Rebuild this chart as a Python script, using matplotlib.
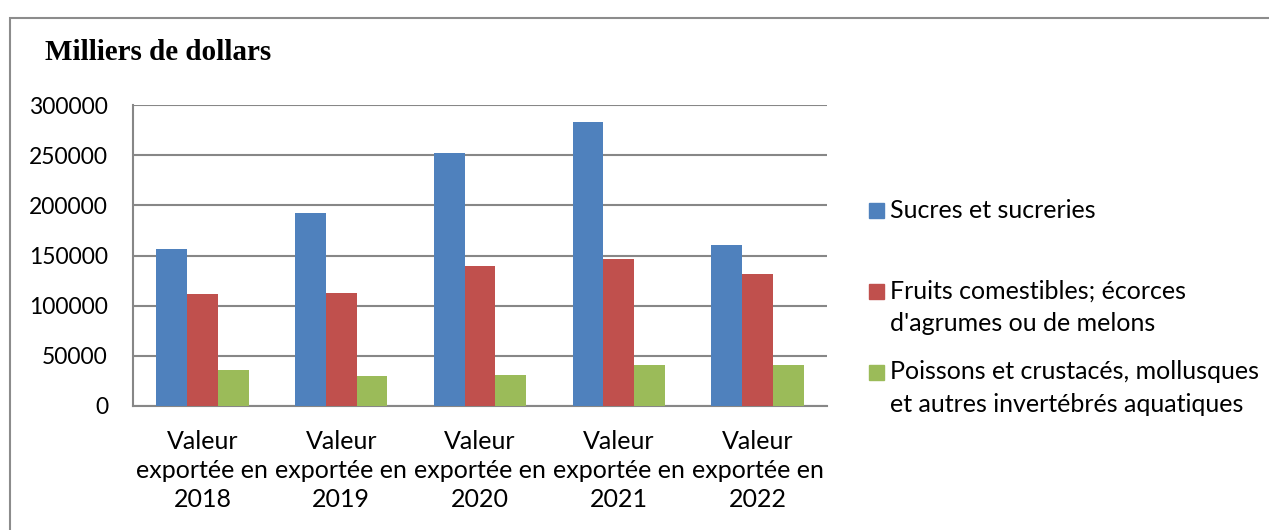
import matplotlib
matplotlib.use("Agg")
import matplotlib.pyplot as plt
import numpy as np
from matplotlib.patches import Rectangle

categories = ["Valeur\nexportée en\n2018", "Valeur\nexportée en\n2019", "Valeur\nexportée en\n2020",
              "Valeur\nexportée en\n2021", "Valeur\nexportée en\n2022"]
series_names = ["Sucres et sucreries",
                "Fruits comestibles; écorces\nd'agrumes ou de melons",
                "Poissons et crustacés, mollusques\net autres invertébrés aquatiques"]
sucres = [156700, 192300, 251700, 283300, 160000]
fruits = [111700, 113000, 140000, 146300, 131700]
poissons = [35700, 29700, 30700, 40700, 40700]
yticks = [0, 50000, 100000, 150000, 200000, 250000, 300000]
colors = ["#4F81BD", "#C0504D", "#9BBB59"]

W, H = 1269, 530
fig = plt.figure(figsize=(W / 100, H / 100), dpi=100)
plt.rcParams['font.family'] = ['Lato', 'DejaVu Sans']

# outer border
fig.patches.append(Rectangle((10 / W, -0.1), 1.2, 1 - 18 / H + 0.1, transform=fig.transFigure,
                             fill=False, edgecolor="#8c8c8c", linewidth=1.5))

ax = fig.add_axes([133 / W, 1 - 406 / H, (827 - 133) / W, (406 - 105) / H])
x = np.arange(len(categories))
w = 1 / 4.5
data = [sucres, fruits, poissons]
for i, (vals, c, name) in enumerate(zip(data, colors, series_names)):
    ax.bar(x + (i - 1) * w, vals, width=w, color=c, label=name, zorder=3)

ax.set_xlim(-0.5, len(categories) - 0.5)
ax.set_ylim(0, 300000)
ax.set_yticks(yticks)
ax.set_yticklabels([str(v) for v in yticks], fontsize=16.5)
ax.set_xticks(x)
ax.set_xticklabels(categories, fontsize=18, linespacing=1.33)
ax.tick_params(axis="x", length=0, pad=17)
ax.tick_params(axis="y", length=0, pad=18)
ax.yaxis.grid(True, color="#878787", linewidth=1.5, zorder=0)
for s in ["top", "right"]:
    ax.spines[s].set_visible(False)
for s in ["left", "bottom"]:
    ax.spines[s].set_color("#878787")
    ax.spines[s].set_linewidth(1.5)

fig.text(45 / W, 1 - 52 / H, "Milliers de dollars", fontsize=21, fontweight="bold",
         family="Liberation Serif", va="center", ha="left")

# legend
leg_items = [(210, series_names[0]), (307, series_names[1]), (388, series_names[2])]
for (yc, name), c in zip(leg_items, colors):
    lines = name.split("\n")
    first_y = yc - (len(lines) - 1) * 16
    fig.patches.append(Rectangle((869 / W, 1 - (first_y + 7.5) / H), 15 / W, 15 / H,
                                 transform=fig.transFigure, color=c))
    fig.text(890 / W, 1 - yc / H, name, fontsize=18, va="center", ha="left", linespacing=1.48)

fig.savefig("out.png", dpi=100)
